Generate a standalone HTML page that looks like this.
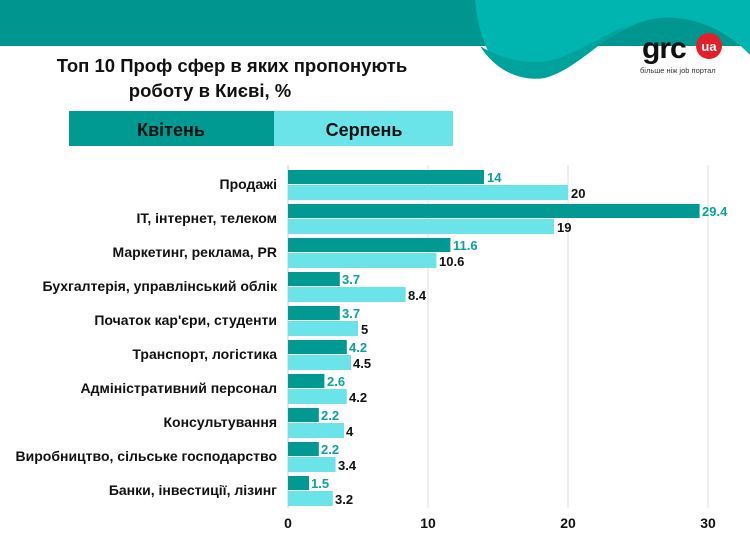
<!DOCTYPE html>
<html><head><meta charset="utf-8"><style>
body{margin:0;width:750px;height:536px;overflow:hidden;background:#fff;font-family:"Liberation Sans","DejaVu Sans",sans-serif;}
</style></head><body>
<svg width="750" height="536" xmlns="http://www.w3.org/2000/svg" font-family="Liberation Sans, DejaVu Sans, sans-serif">
<rect x="0" y="0" width="750" height="46" fill="#009690"/>
<path d="M475 0 H750 V55 C725 28 690 15 660 18 C620 22 590 55 560 70 C540 80 510 80 495 62 C482 45 477 20 475 0 Z" fill="#00b5b0"/>
<path d="M480 46 C495 70 520 82 545 78 C575 70 600 40 630 25 C600 35 570 60 540 62 C515 63 495 55 480 46 Z" fill="#00a29c"/>
<text x="642" y="58" font-size="30" font-weight="bold" fill="#111" letter-spacing="-1">grc</text>
<circle cx="709" cy="46" r="13" fill="#e3202a"/>
<text x="709" y="51" font-size="13" font-weight="bold" fill="#fff" text-anchor="middle">ua</text>
<text x="640" y="73" font-size="7.5" fill="#333">більше ніж job портал</text>
<text x="232" y="72" font-size="18.5" font-weight="bold" fill="#111" text-anchor="middle">Топ 10 Проф сфер в яких пропонують</text>
<text x="210" y="97" font-size="18.5" font-weight="bold" fill="#111" text-anchor="middle">роботу в Києві, %</text>
<rect x="69" y="111" width="205" height="35" fill="#009a93"/>
<rect x="274" y="111" width="179" height="35" fill="#6ae4e8"/>
<text x="171" y="136" font-size="18" font-weight="bold" fill="#111" text-anchor="middle">Квітень</text>
<text x="364" y="136" font-size="18" font-weight="bold" fill="#111" text-anchor="middle">Серпень</text>
<g stroke="#ddd" stroke-width="1">
<line x1="428" y1="165" x2="428" y2="508"/><line x1="568" y1="165" x2="568" y2="508"/><line x1="708" y1="165" x2="708" y2="508"/>
</g>
<line x1="288" y1="165" x2="288" y2="508" stroke="#ccc"/>
<g font-size="14" font-weight="bold" text-anchor="middle" fill="#111">
<text x="288" y="528">0</text><text x="428" y="528">10</text><text x="568" y="528">20</text><text x="708" y="528">30</text>
</g>
<g font-size="14" font-weight="bold" text-anchor="end" fill="#111">
<text x="277" y="189">Продажі</text>
<text x="277" y="223">IT, інтернет, телеком</text>
<text x="277" y="257">Маркетинг, реклама, PR</text>
<text x="277" y="291">Бухгалтерія, управлінський облік</text>
<text x="277" y="325">Початок кар'єри, студенти</text>
<text x="277" y="359">Транспорт, логістика</text>
<text x="277" y="393">Адміністративний персонал</text>
<text x="277" y="427">Консультування</text>
<text x="277" y="461">Виробництво, сільське господарство</text>
<text x="277" y="495">Банки, інвестиції, лізинг</text>
</g>
<g fill="#009a93">
<rect x="288" y="170" width="196" height="14"/>
<rect x="288" y="204" width="411.6" height="14"/>
<rect x="288" y="238" width="162.4" height="14"/>
<rect x="288" y="272" width="51.8" height="14"/>
<rect x="288" y="306" width="51.8" height="14"/>
<rect x="288" y="340" width="58.8" height="14"/>
<rect x="288" y="374" width="36.4" height="14"/>
<rect x="288" y="408" width="30.8" height="14"/>
<rect x="288" y="442" width="30.8" height="14"/>
<rect x="288" y="476" width="21" height="14"/>
</g>
<g fill="#6ae4e8">
<rect x="288" y="185" width="280" height="15"/>
<rect x="288" y="219" width="266" height="15"/>
<rect x="288" y="253" width="148.4" height="15"/>
<rect x="288" y="287" width="117.6" height="15"/>
<rect x="288" y="321" width="70" height="15"/>
<rect x="288" y="355" width="63" height="15"/>
<rect x="288" y="389" width="58.8" height="15"/>
<rect x="288" y="423" width="56" height="15"/>
<rect x="288" y="457" width="47.6" height="15"/>
<rect x="288" y="491" width="44.8" height="15"/>
</g>
<g font-size="13" font-weight="bold" fill="#0aa39b">
<text x="487" y="182">14</text>
<text x="702" y="216">29.4</text>
<text x="453" y="250">11.6</text>
<text x="342" y="284">3.7</text>
<text x="342" y="318">3.7</text>
<text x="349" y="352">4.2</text>
<text x="327" y="386">2.6</text>
<text x="321" y="420">2.2</text>
<text x="321" y="454">2.2</text>
<text x="311" y="488">1.5</text>
</g>
<g font-size="13" font-weight="bold" fill="#111">
<text x="571" y="198">20</text>
<text x="557" y="232">19</text>
<text x="439" y="266">10.6</text>
<text x="408" y="300">8.4</text>
<text x="361" y="334">5</text>
<text x="353" y="368">4.5</text>
<text x="349" y="402">4.2</text>
<text x="346" y="436">4</text>
<text x="338" y="470">3.4</text>
<text x="335" y="504">3.2</text>
</g>
</svg>
</body></html>
